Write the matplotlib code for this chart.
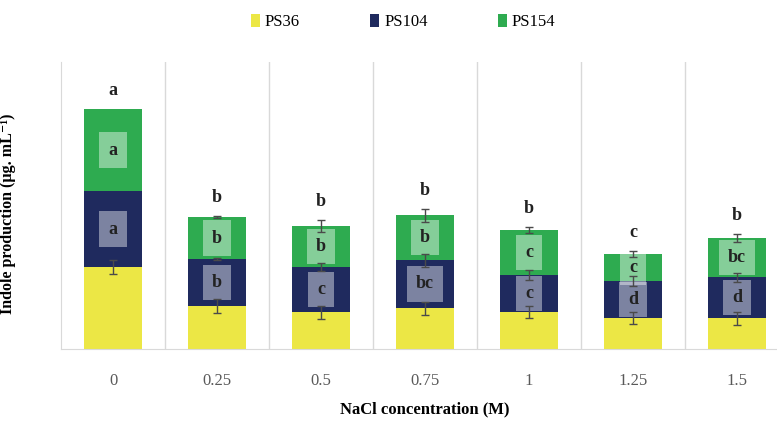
import matplotlib
matplotlib.use("Agg")
import matplotlib.pyplot as plt
import numpy as np

plt.rcParams['font.family'] = ['Liberation Serif', 'DejaVu Serif']

# NaCl concentrations (M)
categories = ["0", "0.25", "0.5", "0.75", "1", "1.25", "1.5"]

# Indole production per strain (stacked)
ps36 = [82, 43, 37, 41, 37, 31, 31]
ps104 = [76, 47, 45, 48, 37, 37, 41]
ps154 = [82, 42, 41, 45, 45, 27, 39]

# Standard errors (None = not shown)
ps36_err = [7, 7, 6.5, 6.5, 6, 6, 6.5]
ps104_err = [None, 1, 4, 6.5, 5, 5, 4.5]
ps154_err = [None, 1, 6, 6.5, 3, 3, 4]

# Significance letters
ps104_letters = ["a", "b", "c", "bc", "c", "d", "d"]
ps154_letters = ["a", "b", "b", "b", "c", "c", "bc"]
total_letters = ["a", "b", "b", "b", "b", "c", "b"]

series_names = ["PS36", "PS104", "PS154"]
colors = ["#ECE745", "#1F2A5E", "#2EAB50"]


def as_err(values):
    return np.array([np.nan if v is None else v for v in values], float)


fig = plt.figure(figsize=(7.77, 4.22), dpi=100)
ax = fig.add_axes([61 / 777, 73 / 422, 728 / 777, 287 / 422])

x = np.arange(len(categories))
width = 0.56
ps36_a = np.array(ps36, float)
ps104_a = np.array(ps104, float)
ps154_a = np.array(ps154, float)

b1 = ax.bar(x, ps36_a, width, color=colors[0], label=series_names[0], zorder=2)
b2 = ax.bar(x, ps104_a, width, bottom=ps36_a, color=colors[1], label=series_names[1], zorder=2)
b3 = ax.bar(x, ps154_a, width, bottom=ps36_a + ps104_a, color=colors[2], label=series_names[2], zorder=2)

err_kw = dict(fmt="none", ecolor="#4a4a4a", elinewidth=1.0, capsize=2.8, capthick=1.0, zorder=4)
ax.errorbar(x, ps36_a, yerr=as_err(ps36_err), **err_kw)
ax.errorbar(x, ps36_a + ps104_a, yerr=as_err(ps104_err), **err_kw)
ax.errorbar(x, ps36_a + ps104_a + ps154_a, yerr=as_err(ps154_err), **err_kw)

box = dict(boxstyle="square,pad=0.5", fc="white", ec="none", alpha=0.42)
top_err = np.nan_to_num(as_err(ps154_err))
for i in range(len(categories)):
    y104 = ps36_a[i] + ps104_a[i] / 2
    y154 = ps36_a[i] + ps104_a[i] + ps154_a[i] / 2
    ax.text(x[i], y104, ps104_letters[i], ha="center", va="center", fontsize=13,
            fontweight="bold", color="#222222", bbox=box, zorder=3)
    ax.text(x[i], y154, ps154_letters[i], ha="center", va="center", fontsize=13,
            fontweight="bold", color="#222222", bbox=box, zorder=3)
    top = ps36_a[i] + ps104_a[i] + ps154_a[i] + top_err[i]
    ax.annotate(total_letters[i], (x[i], top), xytext=(0, 7), textcoords="offset points",
                ha="center", va="bottom", fontsize=13, fontweight="bold", color="#222222")

ax.set_xlim(-0.5, len(categories) - 0.5)
ax.set_ylim(0, 287)

for i in range(len(categories)):
    ax.axvline(i + 0.5, color="#d9d9d9", lw=1.0, zorder=1)

for side in ["top", "right"]:
    ax.spines[side].set_visible(False)
ax.spines["left"].set_color("#d9d9d9")
ax.spines["bottom"].set_color("#d9d9d9")
ax.set_yticks([])
ax.set_xticks(x)
ax.set_xticklabels(categories, fontsize=12, color="#595959")
ax.tick_params(axis="x", length=0, pad=17)

ax.set_xlabel("NaCl concentration (M)", fontsize=12, fontweight="bold", labelpad=9)
ax.set_ylabel("Indole production (µg. mL⁻¹)", fontsize=11.5, fontweight="bold")
ax.yaxis.set_label_coords(-0.062, 0.47)

fig.legend(handles=[b1, b2, b3], labels=series_names, loc="center",
           bbox_to_anchor=(403 / 777, 1 - 22 / 422), ncol=3, frameon=False,
           fontsize=12, handlelength=0.55, handleheight=0.85, handletextpad=0.3,
           columnspacing=4.2)

fig.savefig("out.png", dpi=100)
